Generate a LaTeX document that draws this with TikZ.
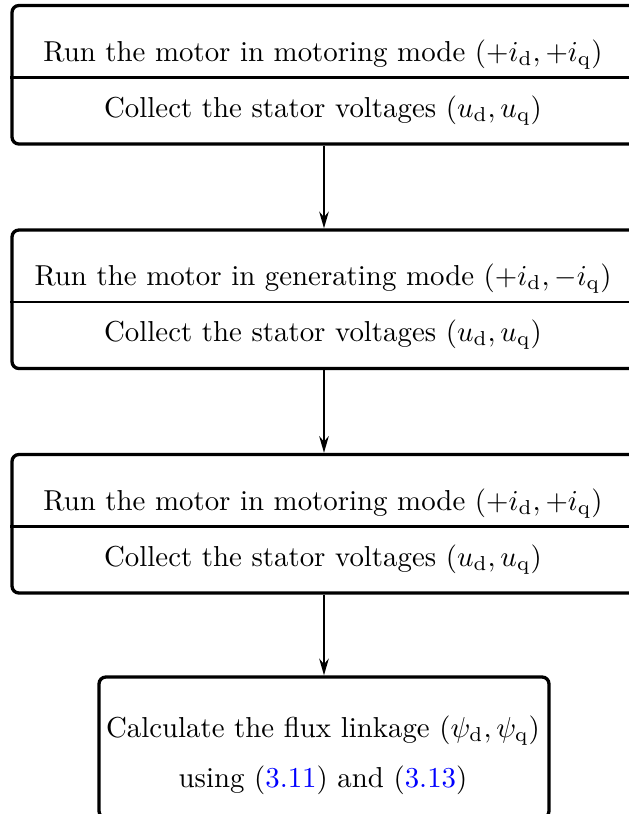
\documentclass[tikz,border=0pt]{standalone}
\usetikzlibrary{arrows.meta,fit}
\begin{document}
\begin{tikzpicture}[x=0.3467pt,y=-0.3467pt,
  box/.style={draw, line width=1.14pt, rounded corners=2.4pt, inner sep=0pt},
  divider/.style={line width=0.8pt},
  lbl/.style={anchor=base, inner sep=0pt},
  flow/.style={line width=0.72pt, -{Stealth[length=5.8pt,width=3.3pt,inset=1.9pt]}}]
\useasboundingbox (0,0) rectangle (629,814);
\clip (0,0) rectangle (629,814);
% boxes
\node[box, fit={(12,5.5) (636,144)}] (b1) {};
\node[box, fit={(12,230) (636,368.5)}] (b2) {};
\node[box, fit={(12,454.5) (636,593)}] (b3) {};
\node[box, fit={(99,677) (549,818)}] (b4) {};
% dividers
\draw[divider] (b1.west |- 0,77.5) -- (b1.east |- 0,77.5);
\draw[divider] (b2.west |- 0,302) -- (b2.east |- 0,302);
\draw[divider] (b3.west |- 0,526.5) -- (b3.east |- 0,526.5);
% texts
\node[lbl] (t1a) at (323,61) {Run the motor in motoring mode $(+i_\mathrm{d},+i_\mathrm{q})$};
\node[lbl] (t1b) at (323,117) {Collect the stator voltages $(u_\mathrm{d},u_\mathrm{q})$};
\node[lbl] (t2a) at (323,285.5) {Run the motor in generating mode $(+i_\mathrm{d},-i_\mathrm{q})$};
\node[lbl] (t2b) at (323,341.5) {Collect the stator voltages $(u_\mathrm{d},u_\mathrm{q})$};
\node[lbl] (t3a) at (323,510) {Run the motor in motoring mode $(+i_\mathrm{d},+i_\mathrm{q})$};
\node[lbl] (t3b) at (323,566) {Collect the stator voltages $(u_\mathrm{d},u_\mathrm{q})$};
\node[lbl] (t4a) at (323,737) {Calculate the flux linkage $(\psi_\mathrm{d},\psi_\mathrm{q})$};
\node[lbl] (t4b) at (323,787) {using (\textcolor{blue}{3.11}) and (\textcolor{blue}{3.13})};
% connectors
\draw[flow] (b1.south) -- (b2.north);
\draw[flow] (b2.south) -- (b3.north);
\draw[flow] (b3.south) -- (b4.north);
\end{tikzpicture}
\end{document}
